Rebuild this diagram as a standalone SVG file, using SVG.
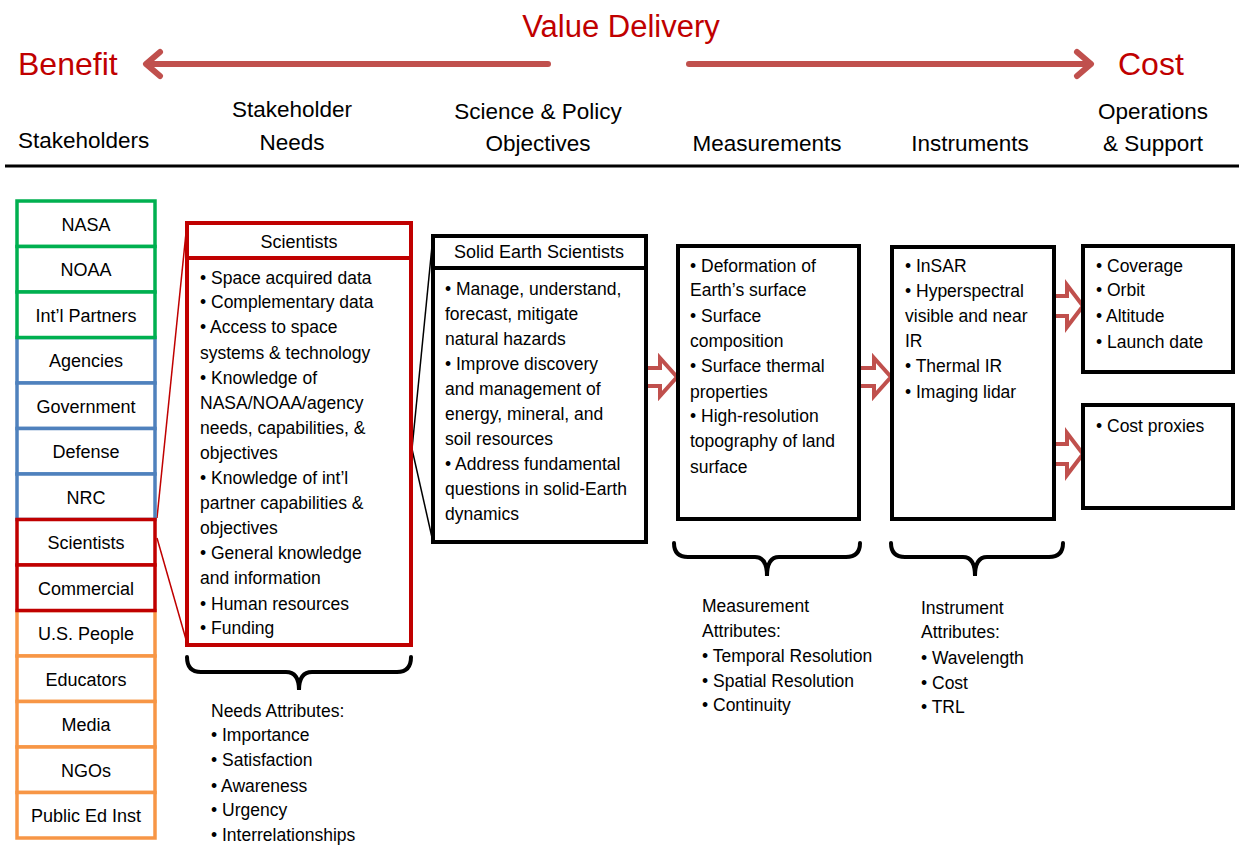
<svg xmlns="http://www.w3.org/2000/svg" width="1239" height="847" viewBox="0 0 1239 847">
<style>
text{font-family:"Liberation Sans",Arial,sans-serif;fill:#000}
.title{font-size:32px;fill:#C00000}
.hdr{font-size:22.5px;text-anchor:middle}
.sk{font-size:18px;text-anchor:middle}
.t{font-size:17.5px}
.g{fill:#fff;stroke:#00B050;stroke-width:3.5}
.b{fill:#fff;stroke:#4F81BD;stroke-width:3.5}
.o{fill:#fff;stroke:#F79646;stroke-width:3.5}
.r{fill:#fff;stroke:#C00000;stroke-width:3.5}
.rk{fill:#fff;stroke:#C00000;stroke-width:4}
.bk{fill:#fff;stroke:#000;stroke-width:4}
.ba{fill:#fff;stroke:#C0504D;stroke-width:4;stroke-linejoin:miter}
.va{fill:none;stroke:#C0504D;stroke-width:6;stroke-linecap:round;stroke-linejoin:round}
.brace{fill:none;stroke:#000;stroke-width:4;stroke-linecap:round}
</style>

<g id="header">
<text class="title" x="621" y="37" text-anchor="middle" style="font-size:31px">Value Delivery</text>
<text class="title" x="18" y="75">Benefit</text>
<text class="title" x="1118" y="75">Cost</text>
<line x1="548" y1="64" x2="147" y2="64" class="va"/>
<polyline points="160,52 146,64 160,76" class="va"/>
<line x1="689" y1="64" x2="1090" y2="64" class="va"/>
<polyline points="1077,52 1091,64 1077,76" class="va"/>
<text x="18" y="148" style="font-size:22.5px">Stakeholders</text>
<text class="hdr" x="292" y="117">Stakeholder</text>
<text class="hdr" x="292" y="150">Needs</text>
<text class="hdr" x="538" y="119">Science &amp; Policy</text>
<text class="hdr" x="538" y="151">Objectives</text>
<text class="hdr" x="767" y="151">Measurements</text>
<text class="hdr" x="970" y="151">Instruments</text>
<text class="hdr" x="1153" y="119">Operations</text>
<text class="hdr" x="1153" y="151">&amp; Support</text>
<line x1="5" y1="166" x2="1239" y2="166" stroke="#000" stroke-width="3"/>
</g>

<g id="connectors">
<line x1="157" y1="518" x2="187" y2="223" stroke="#C00000" stroke-width="1.5"/>
<line x1="157" y1="538" x2="187" y2="643" stroke="#C00000" stroke-width="1.5"/>
<line x1="412" y1="449" x2="433" y2="236" stroke="#000" stroke-width="1.5"/>
<line x1="412" y1="449" x2="433" y2="542" stroke="#000" stroke-width="1.5"/>
<polygon class="ba" points="640,368 660,368 660,358 677,377 660,396 660,386 640,386"/>
<polygon class="ba" points="853,368 874,368 874,358 891,377 874,396 874,386 853,386"/>
<polygon class="ba" points="1048,296 1067,296 1067,285 1083,306 1067,327 1067,316 1048,316"/>
<polygon class="ba" points="1048,444 1067,444 1067,433 1083,454 1067,475 1067,464 1048,464"/>
</g>

<g id="stakeholders">
<g id="s-agencies"><rect class="b" x="17" y="337.5" width="138" height="45.5"/><text class="sk" x="86" y="367">Agencies</text></g>
<g id="s-government"><rect class="b" x="17" y="383" width="138" height="45.5"/><text class="sk" x="86" y="412.5">Government</text></g>
<g id="s-defense"><rect class="b" x="17" y="428.5" width="138" height="45.5"/><text class="sk" x="86" y="458">Defense</text></g>
<g id="s-nrc"><rect class="b" x="17" y="474" width="138" height="45.5"/><text class="sk" x="86" y="503.5">NRC</text></g>
<g id="s-uspeople"><rect class="o" x="17" y="610.5" width="138" height="45.5"/><text class="sk" x="86" y="640">U.S. People</text></g>
<g id="s-educators"><rect class="o" x="17" y="656" width="138" height="45.5"/><text class="sk" x="86" y="685.5">Educators</text></g>
<g id="s-media"><rect class="o" x="17" y="701.5" width="138" height="45.5"/><text class="sk" x="86" y="731">Media</text></g>
<g id="s-ngos"><rect class="o" x="17" y="747" width="138" height="45.5"/><text class="sk" x="86" y="776.5">NGOs</text></g>
<g id="s-publicedinst"><rect class="o" x="17" y="792.5" width="138" height="45.5"/><text class="sk" x="86" y="822">Public Ed Inst</text></g>
<g id="s-nasa"><rect class="g" x="17" y="201" width="138" height="45.5"/><text class="sk" x="86" y="230.5">NASA</text></g>
<g id="s-noaa"><rect class="g" x="17" y="246.5" width="138" height="45.5"/><text class="sk" x="86" y="276">NOAA</text></g>
<g id="s-intlpartners"><rect class="g" x="17" y="292" width="138" height="45.5"/><text class="sk" x="86" y="321.5">Int’l Partners</text></g>
<g id="s-scientists"><rect class="r" x="17" y="519.5" width="138" height="45.5"/><text class="sk" x="86" y="549">Scientists</text></g>
<g id="s-commercial"><rect class="r" x="17" y="565" width="138" height="45.5"/><text class="sk" x="86" y="594.5">Commercial</text></g>
</g>

<g id="needs">
<rect class="rk" x="187" y="223" width="224" height="35"/>
<rect class="rk" x="187" y="258" width="224" height="387"/>
<text class="sk" x="299" y="248">Scientists</text>
<text class="t" x="200">
<tspan x="200" y="284">• Space acquired data</tspan>
<tspan x="200" y="308">• Complementary data</tspan>
<tspan x="200" y="333">• Access to space</tspan>
<tspan x="200" y="359">systems &amp; technology</tspan>
<tspan x="200" y="384">• Knowledge of</tspan>
<tspan x="200" y="409">NASA/NOAA/agency</tspan>
<tspan x="200" y="434">needs, capabilities, &amp;</tspan>
<tspan x="200" y="459">objectives</tspan>
<tspan x="200" y="484">• Knowledge of int’l</tspan>
<tspan x="200" y="509">partner capabilities &amp;</tspan>
<tspan x="200" y="534">objectives</tspan>
<tspan x="200" y="559">• General knowledge</tspan>
<tspan x="200" y="584">and information</tspan>
<tspan x="200" y="610">• Human resources</tspan>
<tspan x="200" y="634">• Funding</tspan>
</text>
</g>

<g id="objectives">
<rect class="bk" x="433" y="236" width="213" height="32"/>
<rect class="bk" x="433" y="268" width="213" height="274"/>
<text class="sk" x="539" y="258">Solid Earth Scientists</text>
<text class="t">
<tspan x="445" y="295">• Manage, understand,</tspan>
<tspan x="445" y="320">forecast, mitigate</tspan>
<tspan x="445" y="345">natural hazards</tspan>
<tspan x="445" y="370">• Improve discovery</tspan>
<tspan x="445" y="395">and management of</tspan>
<tspan x="445" y="420">energy, mineral, and</tspan>
<tspan x="445" y="445">soil resources</tspan>
<tspan x="445" y="470">• Address fundamental</tspan>
<tspan x="445" y="495">questions in solid-Earth</tspan>
<tspan x="445" y="520">dynamics</tspan>
</text>
</g>

<g id="measurements">
<rect class="bk" x="678" y="246" width="181" height="273"/>
<text class="t">
<tspan x="690" y="272">• Deformation of</tspan>
<tspan x="690" y="296">Earth’s surface</tspan>
<tspan x="690" y="322">• Surface</tspan>
<tspan x="690" y="347">composition</tspan>
<tspan x="690" y="372">• Surface thermal</tspan>
<tspan x="690" y="398">properties</tspan>
<tspan x="690" y="422">• High-resolution</tspan>
<tspan x="690" y="447">topography of land</tspan>
<tspan x="690" y="473">surface</tspan>
</text>
</g>

<g id="instruments">
<rect class="bk" x="892" y="247" width="162" height="272"/>
<text class="t">
<tspan x="905" y="272">• InSAR</tspan>
<tspan x="905" y="297">• Hyperspectral</tspan>
<tspan x="905" y="322">visible and near</tspan>
<tspan x="905" y="347">IR</tspan>
<tspan x="905" y="372">• Thermal IR</tspan>
<tspan x="905" y="398">• Imaging lidar</tspan>
</text>
</g>

<g id="operations">
<rect class="bk" x="1083" y="246" width="150" height="126"/>
<text class="t">
<tspan x="1096" y="272">• Coverage</tspan>
<tspan x="1096" y="296">• Orbit</tspan>
<tspan x="1096" y="322">• Altitude</tspan>
<tspan x="1096" y="348">• Launch date</tspan>
</text>
</g>

<g id="support">
<rect class="bk" x="1083" y="405" width="150" height="103"/>
<text class="t" x="1096" y="432">• Cost proxies</text>
</g>

<g id="needs-attributes">
<path class="brace" d="M187,657 Q187,672 201,672 L286,672 Q299,672 299,690 Q299,672 312,672 L397,672 Q411,672 411,657"/>
<text class="t">
<tspan x="211" y="717">Needs Attributes:</tspan>
<tspan x="211" y="741">• Importance</tspan>
<tspan x="211" y="766">• Satisfaction</tspan>
<tspan x="211" y="792">• Awareness</tspan>
<tspan x="211" y="816">• Urgency</tspan>
<tspan x="211" y="841">• Interrelationships</tspan>
</text>
</g>

<g id="measurement-attributes">
<path class="brace" d="M674,543 Q674,557 688,557 L755,557 Q767,557 767,576 Q767,557 779,557 L846,557 Q860,557 860,543"/>
<text class="t">
<tspan x="702" y="612">Measurement</tspan>
<tspan x="702" y="637">Attributes:</tspan>
<tspan x="702" y="662">• Temporal Resolution</tspan>
<tspan x="702" y="687">• Spatial Resolution</tspan>
<tspan x="702" y="711">• Continuity</tspan>
</text>
</g>

<g id="instrument-attributes">
<path class="brace" d="M891,543 Q891,557 905,557 L963,557 Q975,557 975,576 Q975,557 987,557 L1049,557 Q1063,557 1063,543"/>
<text class="t">
<tspan x="921" y="614">Instrument</tspan>
<tspan x="921" y="638">Attributes:</tspan>
<tspan x="921" y="664">• Wavelength</tspan>
<tspan x="921" y="689">• Cost</tspan>
<tspan x="921" y="713">• TRL</tspan>
</text>
</g>
</svg>
